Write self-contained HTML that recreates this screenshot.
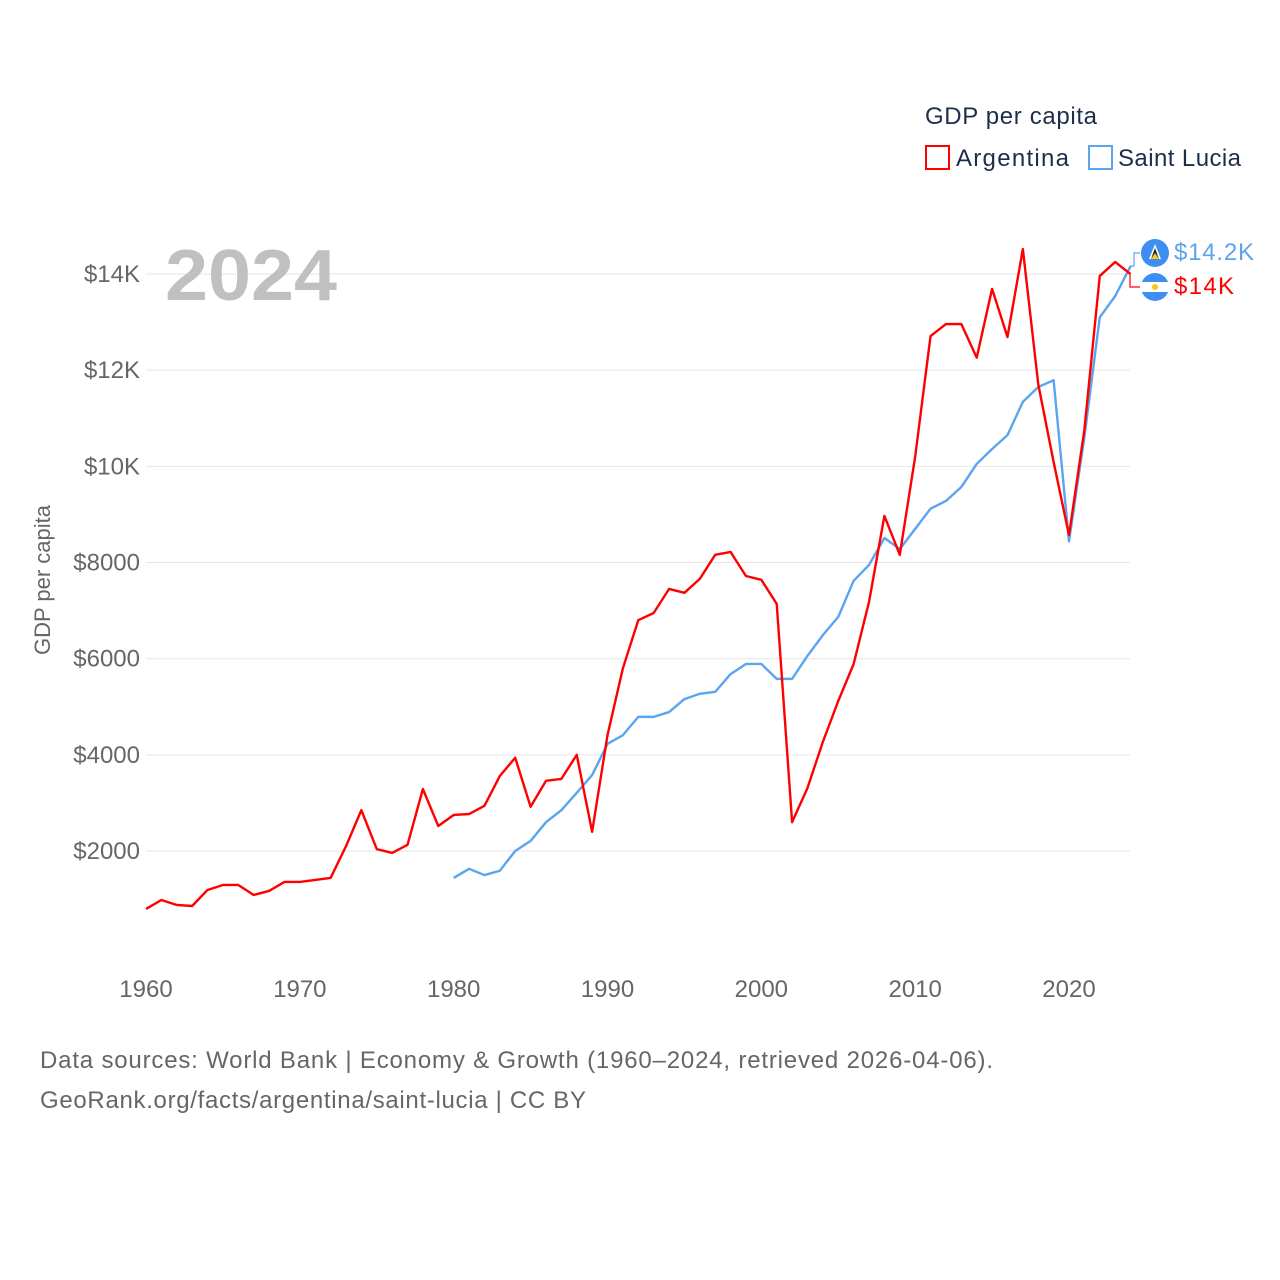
<!DOCTYPE html>
<html><head><meta charset="utf-8"><style>
body{margin:0;background:#fff;font-family:"Liberation Sans",sans-serif}
svg{display:block}
</style></head><body>
<svg id="chart" width="1280" height="1280" viewBox="0 0 1280 1280">
<g id="grid"></g>
<g id="yticks"></g>
<g id="xticks"></g>
<text x="50" y="580" transform="rotate(-90 50 580)" text-anchor="middle" font-size="22" fill="#666">GDP per capita</text>
<text x="165" y="300" font-size="72" font-weight="bold" fill="#c0c0c0" textLength="172" lengthAdjust="spacingAndGlyphs">2024</text>
<g id="series"></g>
<g>
<text x="925" y="124" font-size="24" fill="#1e2d4a" textLength="172">GDP per capita</text>
<g><rect x="926" y="146" width="23" height="23" fill="none" stroke="#f00" stroke-width="2"/><text x="956" y="166" font-size="24" fill="#1e2d4a" textLength="113">Argentina</text></g>
<g><rect x="1089" y="146" width="23" height="23" fill="none" stroke="#5aa5ee" stroke-width="2"/><text x="1118" y="166" font-size="24" fill="#1e2d4a" textLength="123">Saint Lucia</text></g>
</g>
<g>
<path d="M1130 266 L1134 266 L1134 253 L1140 253" fill="none" stroke="#5aa5ee" stroke-width="1.2"/>
<path d="M1130 274 L1130 287 L1140 287" fill="none" stroke="#f00" stroke-width="1.2"/>
<circle cx="1155" cy="253" r="14" fill="#3d8ef0"/>
<polygon points="1155,244 1161,259 1149,259" fill="#fff"/><polygon points="1155,248 1159,259 1151,259" fill="#222"/><polygon points="1155,253 1159,259 1151,259" fill="#f7c928"/>
<g><circle cx="1155" cy="287" r="14" fill="#3d8ef0"/><rect x="1141" y="282" width="28" height="10" fill="#fff"/><circle cx="1155" cy="287" r="3" fill="#f5c518"/></g>
<text x="1174" y="260" font-size="24" fill="#5aa5ee" textLength="80">$14.2K</text>
<text x="1174" y="294" font-size="24" fill="#f00" textLength="60">$14K</text>
</g>
<text x="40" y="1068" font-size="24" fill="#666" textLength="953">Data sources: World Bank | Economy &amp; Growth (1960–2024, retrieved 2026-04-06).</text>
<text x="40" y="1108" font-size="24" fill="#666" textLength="546">GeoRank.org/facts/argentina/saint-lucia | CC BY</text>
</svg>
<script>
const yTicks=[2000,4000,6000,8000,10000,12000,14000];
const yTickLabels=["$2000","$4000","$6000","$8000","$10K","$12K","$14K"];
const xTicks=[1960,1970,1980,1990,2000,2010,2020];
const argYears=[1960,1961,1962,1963,1964,1965,1966,1967,1968,1969,1970,1971,1972,1973,1974,1975,1976,1977,1978,1979,1980,1981,1982,1983,1984,1985,1986,1987,1988,1989,1990,1991,1992,1993,1994,1995,1996,1997,1998,1999,2000,2001,2002,2003,2004,2005,2006,2007,2008,2009,2010,2011,2012,2013,2014,2015,2016,2017,2018,2019,2020,2021,2022,2023,2024];
const argentina=[795,982,878,857,1190,1294,1294,1086,1170,1357,1357,1400,1440,2100,2850,2040,1960,2130,3290,2520,2750,2770,2940,3560,3940,2920,3460,3500,4000,2400,4410,5800,6800,6950,7450,7370,7660,8160,8220,7720,7640,7140,2600,3310,4270,5120,5890,7180,8970,8160,10200,12710,12960,12960,12260,13690,12690,14520,11710,10090,8570,10760,13960,14250,14000];
const lucYears=[1980,1981,1982,1983,1984,1985,1986,1987,1988,1989,1990,1991,1992,1993,1994,1995,1996,1997,1998,1999,2000,2001,2002,2003,2004,2005,2006,2007,2008,2009,2010,2011,2012,2013,2014,2015,2016,2017,2018,2019,2020,2021,2022,2023,2024];
const saintLucia=[1440,1630,1500,1590,2000,2210,2600,2850,3210,3580,4230,4410,4790,4790,4890,5160,5270,5310,5680,5890,5890,5580,5580,6060,6490,6870,7620,7950,8510,8280,8700,9120,9280,9570,10050,10360,10650,11340,11650,11790,8440,10610,13100,13540,14160];
const NS="http://www.w3.org/2000/svg";
const xS=y=>146+(y-1960)*(923/60);
const yS=v=>947.2-v*(96.17/2000);
const grid=document.getElementById('grid'),yt=document.getElementById('yticks'),xt=document.getElementById('xticks'),ser=document.getElementById('series');
yTicks.forEach((v,i)=>{
 const l=document.createElementNS(NS,'line');
 l.setAttribute('x1',146);l.setAttribute('x2',1130);l.setAttribute('y1',yS(v));l.setAttribute('y2',yS(v));
 l.setAttribute('stroke','#e6e6e6');l.setAttribute('stroke-width','1');
 
 
 grid.appendChild(l);
 const t=document.createElementNS(NS,'text');
 t.setAttribute('x',140);t.setAttribute('y',yS(v)+8);t.setAttribute('text-anchor','end');
 t.setAttribute('font-size','24');t.setAttribute('fill','#666');t.textContent=yTickLabels[i];
 
 
 yt.appendChild(t);
});
xTicks.forEach(v=>{
 const t=document.createElementNS(NS,'text');
 t.setAttribute('x',xS(v));t.setAttribute('y',997);t.setAttribute('text-anchor','middle');
 t.setAttribute('font-size','24');t.setAttribute('fill','#666');t.textContent=v;
 
 
 xt.appendChild(t);
});
function line(years,vals,color,name){
 const p=document.createElementNS(NS,'polyline');
 p.setAttribute('points',years.map((y,i)=>xS(y)+','+yS(vals[i])).join(' '));
 p.setAttribute('fill','none');p.setAttribute('stroke',color);p.setAttribute('stroke-width','2.4');p.setAttribute('stroke-linejoin','round');
 
 
 ser.appendChild(p);
}
line(lucYears,saintLucia,'#5aa5ee','saint-lucia-line');
line(argYears,argentina,'#f00','argentina-line');
</script>
</body></html>
